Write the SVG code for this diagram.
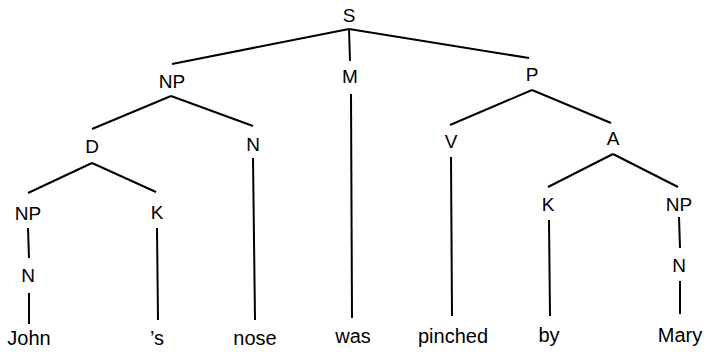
<svg xmlns="http://www.w3.org/2000/svg" width="706" height="355" viewBox="0 0 706 355">
<style>
text{font-family:"Liberation Sans",Arial,sans-serif;font-size:19px;fill:#000;text-anchor:middle}
.w{font-size:20px}
#edges line{stroke:#000;stroke-width:2;stroke-linecap:butt}
</style>
<rect width="706" height="355" fill="#fff"/>
<g id="edges">
<line x1="349" y1="29" x2="172" y2="64"/>
<line x1="349" y1="29" x2="350" y2="61"/>
<line x1="349" y1="29" x2="529" y2="58"/>
<line x1="171" y1="96" x2="92" y2="129"/>
<line x1="171" y1="96" x2="253" y2="126"/>
<line x1="92" y1="163" x2="28" y2="193"/>
<line x1="92" y1="163" x2="156" y2="192"/>
<line x1="28" y1="228" x2="29" y2="258"/>
<line x1="29" y1="293" x2="29" y2="324"/>
<line x1="157" y1="228" x2="158" y2="320"/>
<line x1="253" y1="158" x2="255" y2="320"/>
<line x1="351" y1="94" x2="352" y2="318"/>
<line x1="532" y1="90" x2="450" y2="125"/>
<line x1="532" y1="90" x2="611" y2="123"/>
<line x1="451" y1="157" x2="452" y2="316"/>
<line x1="613" y1="154" x2="548" y2="187"/>
<line x1="613" y1="154" x2="678" y2="187"/>
<line x1="549" y1="220" x2="550" y2="316"/>
<line x1="679" y1="217" x2="680" y2="248"/>
<line x1="680" y1="281" x2="680" y2="314"/>
</g>
<g id="S"><text x="349" y="22">S</text></g>
<g id="NP1"><text x="172" y="88">NP</text></g>
<g id="M"><text x="350" y="83">M</text></g>
<g id="P"><text x="532" y="81">P</text></g>
<g id="D"><text x="92" y="153">D</text></g>
<g id="N1"><text x="253" y="151">N</text></g>
<g id="V"><text x="451" y="148">V</text></g>
<g id="A"><text x="613" y="145">A</text></g>
<g id="NP2"><text x="28" y="220">NP</text></g>
<g id="K1"><text x="157" y="219">K</text></g>
<g id="K2"><text x="548" y="211">K</text></g>
<g id="NP3"><text x="679" y="211">NP</text></g>
<g id="N2"><text x="28" y="282">N</text></g>
<g id="N3"><text x="679" y="272">N</text></g>
<g id="John"><text class="w" x="29" y="345">John</text></g>
<g id="s"><text class="w" x="157" y="345">’s</text></g>
<g id="nose"><text class="w" x="255" y="345">nose</text></g>
<g id="was"><text class="w" x="353" y="343">was</text></g>
<g id="pinched"><text class="w" x="453" y="343">pinched</text></g>
<g id="by"><text class="w" x="549" y="342">by</text></g>
<g id="Mary"><text class="w" x="680" y="342">Mary</text></g>
</svg>
